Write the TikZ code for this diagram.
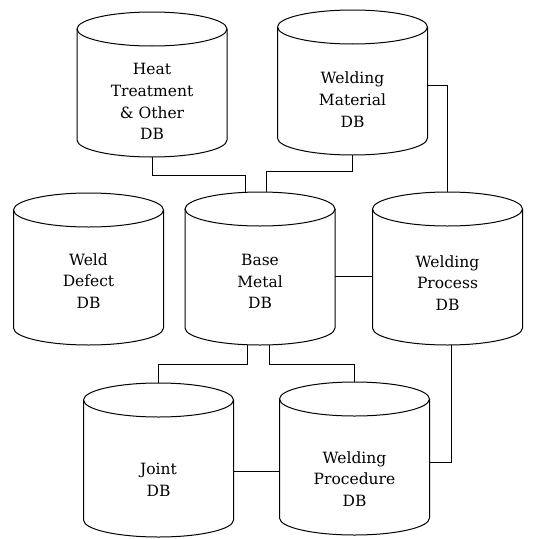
\documentclass[tikz,border=0pt]{standalone}
\usepackage{fontspec}
\setmainfont{DejaVu Serif}
\usetikzlibrary{calc}
\newcommand\drawcyl[1]{%
  \draw[cylline] ([yshift=-17pt]#1.north) ellipse [x radius=75pt, y radius=17pt];
  \draw[cylline] ([yshift=-17pt]#1.north west) -- ([yshift=17pt]#1.south west)
     arc[start angle=180, end angle=360, x radius=75pt, y radius=17pt]
     -- ([yshift=-17pt]#1.north east);}
\begin{document}
\begin{tikzpicture}[x=1pt,y=-1pt,
  cylbox/.style={minimum width=150pt, inner sep=0pt, outer sep=0pt, draw=none, anchor=north},
  cylline/.style={line width=1pt},
  lbl/.style={align=center, font=\fontsize{15.5}{21.7}\selectfont, inner sep=0pt},
  conn/.style={line width=1pt}]
\useasboundingbox (0,0) rectangle (543,538);
% cylinder boxes
\node[cylbox, minimum height=145pt] (heat)  at (152,12) {};
\node[cylbox, minimum height=145pt] (mat)   at (352.5,10) {};
\node[cylbox, minimum height=152pt] (def)   at (88.5,193) {};
\node[cylbox, minimum height=153pt] (base)  at (260,192) {};
\node[cylbox, minimum height=153pt] (proc)  at (447.5,192) {};
\node[cylbox, minimum height=154pt] (joint) at (158.5,383) {};
\node[cylbox, minimum height=153pt] (pro)   at (354.5,382) {};
\drawcyl{heat}\drawcyl{mat}\drawcyl{def}\drawcyl{base}\drawcyl{proc}\drawcyl{joint}\drawcyl{pro}
% labels
\node[lbl] (heat-t)  at ([yshift=-17pt]heat.center)  {Heat\\Treatment\\\& Other\\DB};
\node[lbl] (mat-t)   at ([yshift=-17pt]mat.center)   {Welding\\Material\\DB};
\node[lbl] (def-t)   at ([yshift=-12pt]def.center)   {Weld\\Defect\\DB};
\node[lbl] (base-t)  at ([yshift=-13pt]base.center)  {Base\\Metal\\DB};
\node[lbl] (proc-t)  at ([yshift=-14.5pt]proc.center) {Welding\\Process\\DB};
\node[lbl] (joint-t) at ([yshift=-20pt]joint.center) {Joint\\DB};
\node[lbl] (pro-t)   at ([yshift=-20.5pt]pro.center) {Welding\\Procedure\\DB};
% connectors
\draw[conn] (heat.south) -- ++(0,18) -| ([xshift=-15pt]base.north);
\draw[conn] (mat.south) -- ++(0,16) -| ([xshift=6pt]base.north);
\draw[conn] ([yshift=-2.5pt]mat.east) -| (proc.north);
\draw[conn] ([yshift=-7.5pt]base.east) -- ([yshift=-7.5pt]proc.west);
\draw[conn] ([xshift=-13pt]base.south) -- ++(0,19) -| (joint.north);
\draw[conn] ([xshift=9pt]base.south) -- ++(0,19) -| (pro.north);
\draw[conn] ([xshift=3.5pt]proc.south) |- ([yshift=-3.5pt]pro.east);
\draw[conn] ([yshift=-11pt]joint.east) -- ([yshift=-12.5pt]pro.west);
\end{tikzpicture}
\end{document}
